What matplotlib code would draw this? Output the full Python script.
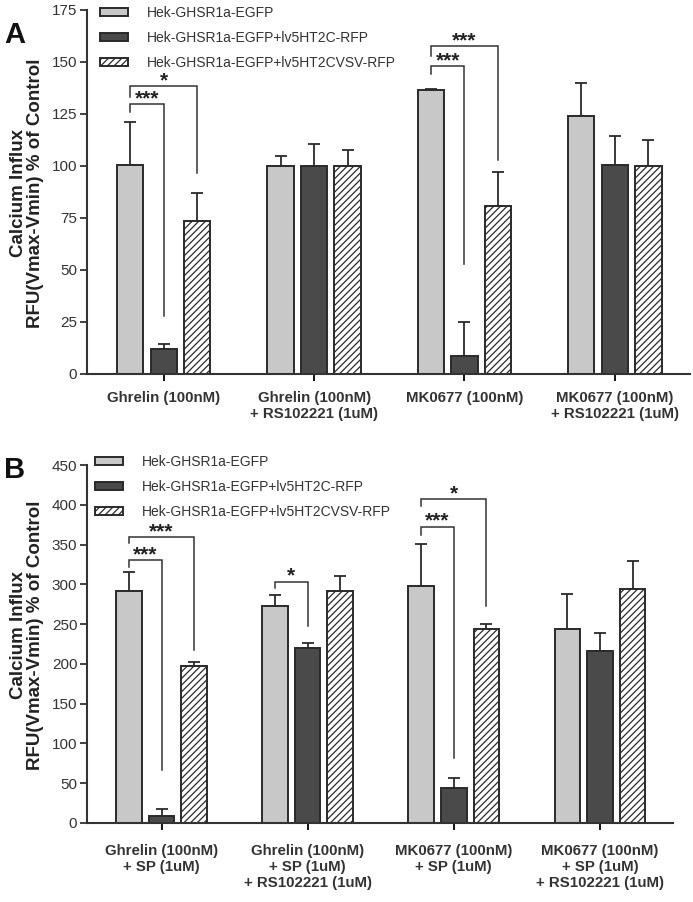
import matplotlib
matplotlib.use("Agg")
import matplotlib.pyplot as plt
import numpy as np

plt.rcParams['font.family'] = ['Liberation Sans', 'DejaVu Sans']
plt.rcParams['hatch.linewidth'] = 0.9
plt.rcParams['hatch.color'] = '#444444'

series = ["Hek-GHSR1a-EGFP", "Hek-GHSR1a-EGFP+lv5HT2C-RFP", "Hek-GHSR1a-EGFP+lv5HT2CVSV-RFP"]

# Panel A
cats_a = ["Ghrelin (100nM)", "Ghrelin (100nM)\n+ RS102221 (1uM)",
          "MK0677 (100nM)", "MK0677 (100nM)\n+ RS102221 (1uM)"]
light_a = [100.5, 100, 136.5, 124.2]
light_a_err = [20.5, 5, 0.6, 15.5]
dark_a = [12, 100, 8.8, 100.5]
dark_a_err = [2.5, 10.5, 16.2, 14]
hatch_a = [73.5, 100, 81, 100]
hatch_a_err = [13.5, 7.5, 16, 12.3]
# brackets: (group, bar_from, bar_to, height, left_leg_end, right_leg_end, label)
sig_a = [(0, 0, 1, 130, 126, 28, "***"), (0, 0, 2, 138.5, 133, 96.5, "*"),
         (2, 0, 1, 148, 144, 53, "***"), (2, 0, 2, 157.5, 153, 103, "***")]
yticks_a = [0, 25, 50, 75, 100, 125, 150, 175]

# Panel B
cats_b = ["Ghrelin (100nM)\n+ SP (1uM)", "Ghrelin (100nM)\n+ SP (1uM)\n+ RS102221 (1uM)",
          "MK0677 (100nM)\n+ SP (1uM)", "MK0677 (100nM)\n+ SP (1uM)\n+ RS102221 (1uM)"]
light_b = [291, 273, 298.5, 243.6]
light_b_err = [24, 13, 52, 44]
dark_b = [8.8, 220.5, 44.4, 216.8]
dark_b_err = [8.8, 5.5, 12.6, 21.8]
hatch_b = [197.5, 291, 244, 294]
hatch_b_err = [4.5, 20, 6.7, 35]
sig_b = [(0, 0, 1, 330, 322, 67, "***"), (0, 0, 2, 360, 352, 217.6, "***"),
         (1, 0, 1, 303.5, 295.6, 247, "*"),
         (2, 0, 1, 372.6, 362, 82, "***"), (2, 0, 2, 407.5, 398, 273, "*")]
yticks_b = [0, 50, 100, 150, 200, 250, 300, 350, 400, 450]

fig = plt.figure(figsize=(6.93, 9.02), dpi=100)
W, H = 693, 902

def px_axes(l, r, top, bot):
    return fig.add_axes([l / W, 1 - bot / H, (r - l) / W, (bot - top) / H])

ax_a = px_axes(87, 690, 10, 374)
ax_b = px_axes(87, 673, 465, 823)

width = 0.175
offs = [-0.223, 0.0, 0.223]
gray = '#333333'
edge = '#2a2a2a'

def draw(ax, cats, vals, errs, sigs, yticks, ymax, xpad, leg_anchor, ylab_pos):
    x = np.arange(len(cats))
    styles = [dict(color='#c8c8c8', edgecolor=edge),
              dict(color='#4a4a4a', edgecolor=edge),
              dict(color='white', edgecolor=edge, hatch='/////')]
    handles = []
    for i in range(3):
        b = ax.bar(x + offs[i], vals[i], width, linewidth=1.4, zorder=2, **styles[i])
        handles.append(b)
        ax.errorbar(x + offs[i], vals[i], yerr=[np.zeros(len(x)), errs[i]], fmt='none',
                    ecolor=edge, elinewidth=1.3, capsize=4.3, capthick=1.3, zorder=1)
    for g, i, j, h, l_end, r_end, lab in sigs:
        x1 = g + offs[i]
        x2 = g + offs[j]
        ax.plot([x1, x1, x2, x2], [l_end, h, h, r_end], color='#333333', lw=1.1,
                solid_joinstyle='miter', zorder=3)
        ax.text((x1 + x2) / 2, h - ymax * 0.012, lab, ha='center', va='bottom',
                fontsize=15, fontweight='bold', color='#222222')
    ax.set_xlim(-0.51, 3.5)
    ax.set_ylim(0, ymax)
    ax.set_yticks(yticks)
    ax.set_xticks(x)
    ax.set_xticklabels(cats, fontsize=10.8, fontweight='bold', color=gray, linespacing=1.2)
    ax.tick_params(axis='y', labelsize=11, colors=gray, length=5, width=1.3, direction='out', pad=2)
    ax.tick_params(axis='x', length=5, width=1.3, direction='out', pad=xpad)
    for s in ['top', 'right']:
        ax.spines[s].set_visible(False)
    for s in ['left', 'bottom']:
        ax.spines[s].set_linewidth(1.5)
        ax.spines[s].set_color('#333333')
    ax.set_ylabel("Calcium Influx\nRFU(Vmax-Vmin) % of Control", fontsize=13.5,
                  fontweight='bold', color='#222222', linespacing=1.05)
    ax.yaxis.set_label_coords(*ylab_pos)
    leg = ax.legend(handles, series, loc='upper left', bbox_to_anchor=leg_anchor,
                    bbox_transform=fig.transFigure,
                    frameon=False, fontsize=10, handlelength=2.0, handleheight=0.55,
                    labelspacing=0.8, handletextpad=1.35, borderaxespad=0, borderpad=0)
    for t in leg.get_texts():
        t.set_color(gray)
    return ax

draw(ax_a, cats_a, [light_a, dark_a, hatch_a], [light_a_err, dark_a_err, hatch_a_err],
     sig_a, yticks_a, 175, 7, (100 / W, 1 - 6 / H), (-0.071, 0.497))
draw(ax_b, cats_b, [light_b, dark_b, hatch_b], [light_b_err, dark_b_err, hatch_b_err],
     sig_b, yticks_b, 450, 10, (95 / W, 1 - 455 / H), (-0.073, 0.525))

fig.text(4 / W, 1 - 43 / H, "A", fontsize=21, fontweight='bold', color='#111111')
fig.text(4 / W, 1 - 478 / H, "B", fontsize=21, fontweight='bold', color='#111111')

fig.savefig("out.png", dpi=100)
